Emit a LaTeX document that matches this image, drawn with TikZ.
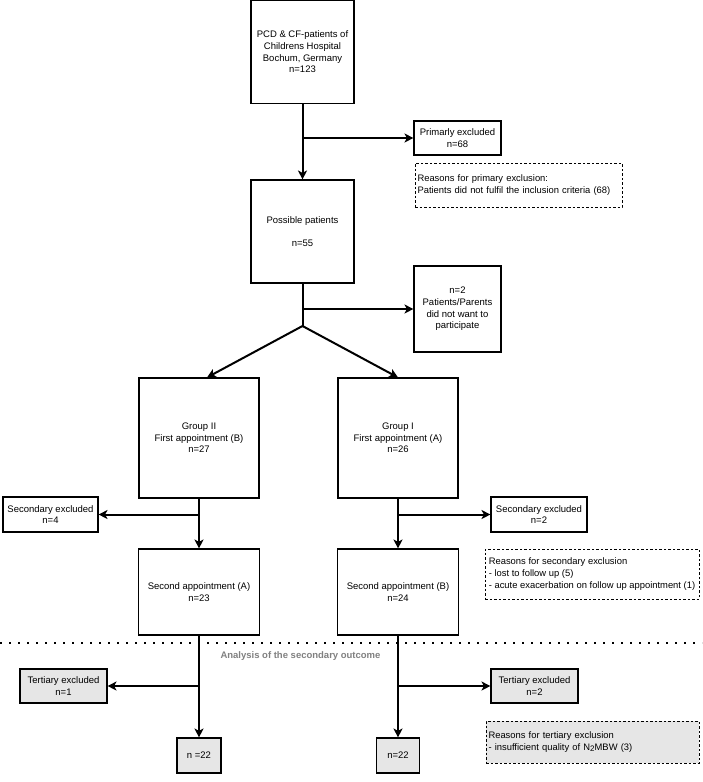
\documentclass[tikz,border=0pt]{standalone}
\usepackage{fontspec}
\setmainfont{Liberation Sans}
\usetikzlibrary{arrows.meta}
\definecolor{boxgray}{HTML}{E6E6E6}
\definecolor{labgray}{HTML}{808080}
\tikzset{
  box/.style={draw, line width=1.1pt, align=center, inner sep=0pt,
    font=\fontsize{9.5}{11.6}\selectfont},
  grbox/.style={box, fill=boxgray},
  reasonbox/.style={draw, line width=1pt, dash pattern=on 2.5pt off 2pt,
    align=left, inner xsep=2.5pt, inner ysep=0pt,
    font=\fontsize{9.4}{11.6}\selectfont},
  arr/.style={line width=2pt, -{Stealth[length=9pt,width=9pt,inset=2.5pt]}},
  ln/.style={line width=2pt},
  sep/.style={line width=2pt, dash pattern=on 2pt off 7pt},
}
\begin{document}
\begin{tikzpicture}[x=1pt,y=-1pt]
\useasboundingbox (0,0) rectangle (702,782);
% main column
\node[box, minimum width=103pt, minimum height=103pt] (top) at (302.5,52)
  {PCD \& CF-patients of\\Childrens Hospital\\Bochum, Germany\\n=123};
\node[box, minimum width=87pt, minimum height=34pt] (prim) at (457.5,138)
  {Primarly excluded\\n=68};
\node[reasonbox, minimum width=207pt, minimum height=44pt, text width=202pt] (primr) at (518.5,185)
  {Reasons for primary exclusion:\\Patients did not fulfil the inclusion criteria (68)};
\node[box, minimum width=103pt, minimum height=103pt] (poss) at (302.5,231.5)
  {Possible patients\\[11.6pt]n=55};
\node[box, minimum width=87pt, minimum height=86pt] (notp) at (457.5,309)
  {n=2\\Patients/Parents\\did not want to\\participate};
% groups
\node[box, minimum width=120pt, minimum height=120pt] (g2) at (199,438)
  {Group II\\First appointment (B)\\n=27};
\node[box, minimum width=120pt, minimum height=120pt] (g1) at (398,438)
  {Group I\\First appointment (A)\\n=26};
\node[box, minimum width=95pt, minimum height=35pt] (sec2) at (50.5,514.5)
  {Secondary excluded\\n=4};
\node[box, minimum width=96pt, minimum height=35pt] (sec1) at (539,514.5)
  {Secondary excluded\\n=2};
\node[box, minimum width=121pt, minimum height=86pt] (a2) at (199,592)
  {Second appointment (A)\\n=23};
\node[box, minimum width=121pt, minimum height=86pt] (a1) at (398,592)
  {Second appointment (B)\\n=24};
\node[reasonbox, minimum width=214pt, minimum height=50pt] (secr) at (592,574)
  {Reasons for secondary exclusion\\- lost to follow up (5)\\- acute exacerbation on follow up appointment (1)};
% separator
\coordinate (sepl) at (0,643);
\coordinate (sepr) at (702,643);
\draw[sep] (sepl) -- (sepr);
\node[font=\fontsize{9.5}{11.6}\selectfont\bfseries, text=labgray, inner sep=0pt] (anal) at (300.5,656)
  {Analysis of the secondary outcome};
% tertiary
\node[grbox, minimum width=87pt, minimum height=34pt] (ter2) at (63.5,686)
  {Tertiary excluded\\n=1};
\node[grbox, minimum width=87pt, minimum height=34pt] (ter1) at (534.5,686)
  {Tertiary excluded\\n=2};
\node[grbox, minimum width=44pt, minimum height=35pt] (f2) at (199,755.5) {n =22};
\node[grbox, minimum width=43pt, minimum height=35pt] (f1) at (398,755.5) {n=22};
\node[reasonbox, fill=boxgray, minimum width=213pt, minimum height=42pt, text width=208pt] (terr) at (592.5,742)
  {Reasons for tertiary exclusion\\- insufficient quality of N\raisebox{-0.35ex}{\fontsize{8}{9}\selectfont 2}MBW (3)};
% connectors
\coordinate (b1) at (302.5,138);
\coordinate (b2) at (302.5,309);
\coordinate (s) at (302.5,326);
\coordinate (b3) at (199,514.5);
\coordinate (b4) at (398,514.5);
\coordinate (b5) at (199,686);
\coordinate (b6) at (398,686);
\draw[arr] (top) -- (poss);
\draw[arr] (b1) -- (prim.west);
\draw[ln] (poss) -- (s);
\draw[arr] (b2) -- (notp.west);
\draw[arr] (s) -- ([xshift=8pt]g2.north);
\draw[arr] (s) -- (g1.north);
\draw[arr] (g2) -- (a2);
\draw[arr] (b3) -- (sec2.east);
\draw[arr] (g1) -- (a1);
\draw[arr] (b4) -- (sec1.west);
\draw[arr] (a2) -- (f2);
\draw[arr] (b5) -- (ter2.east);
\draw[arr] (a1) -- (f1);
\draw[arr] (b6) -- (ter1.west);
\end{tikzpicture}
\end{document}
